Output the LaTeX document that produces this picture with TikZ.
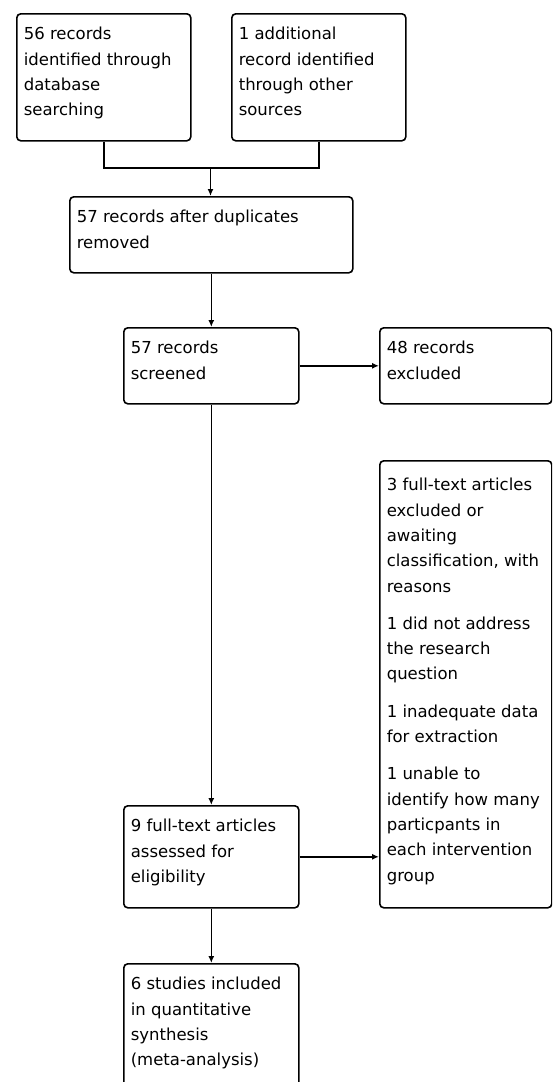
\documentclass[tikz,border=0pt]{standalone}
\usepackage{fontspec}
\setmainfont{DejaVu Sans}
\usetikzlibrary{arrows.meta, positioning}

% text block of a box: width, height, top gap, text
\newcommand{\flowtext}[4]{\parbox[c][#2][t]{#1}{\vspace*{#3}#4}}

\begin{document}
\begin{tikzpicture}[
        x=1pt, y=-1pt,
        box/.style={draw, line width=1.6pt, rounded corners=4pt, anchor=north west,
                    inner xsep=7pt, inner ysep=0pt, font=\fontsize{16.5}{25.3}\selectfont},
        arr/.style={-{Latex[length=7pt, width=6pt]}},
        line width=1.6pt
    ]
    \useasboundingbox (0,0) rectangle (552,1082);
    \clip (0,0) rectangle (552,1082);

    % Identification
    \node[box] (db) at (16,13) {\flowtext{160pt}{127pt}{13.5pt}{56 records\\identified through\\database\\searching}};
    \node[box] (other) at (231,13) {\flowtext{160pt}{127pt}{13.5pt}{1 additional\\record identified\\through other\\sources}};

    % Duplicates removed
    \node[box] (dup) at (69,196) {\flowtext{269pt}{76pt}{13.5pt}{57 records after duplicates\\removed}};

    % Screening
    \node[box] (screen) at (123,327) {\flowtext{161pt}{76pt}{13.5pt}{57 records\\screened}};
    \node[box] (excl) at (379,327) {\flowtext{158pt}{76pt}{13.5pt}{48 records\\excluded}};

    % Eligibility
    \node[box] (full) at (123,805) {\flowtext{161pt}{102pt}{13.5pt}{9 full-text articles\\assessed for\\eligibility}};
    \node[box] (reasons) at (379,460) {\flowtext{158pt}{447pt}{17.5pt}{3 full-text articles\\excluded or\\awaiting\\classification, with\\reasons\\[12pt]
        1 did not address\\the research\\question\\[12pt]
        1 inadequate data\\for extraction\\[12pt]
        1 unable to\\identify how many\\particpants in\\each intervention\\group}};

    % Included
    \node[box] (incl) at (123,963) {\flowtext{161pt}{130pt}{13.5pt}{6 studies included\\in quantitative\\synthesis\\(meta-analysis)}};

    % Connections
    \coordinate (join) at (210.5,168);
    \draw (db.south) |- (join);
    \draw (other.south) |- (join);
    \draw[arr] (join) -- (join |- dup.north);
    \draw[arr] (dup.south) -- (screen.north);
    \draw[arr] (screen.east) -- (excl.west);
    \draw[arr] (screen.south) -- (full.north);
    \draw[arr] (full.east) -- (full.east -| reasons.west);
    \draw[arr] (full.south) -- (incl.north);
\end{tikzpicture}
\end{document}
